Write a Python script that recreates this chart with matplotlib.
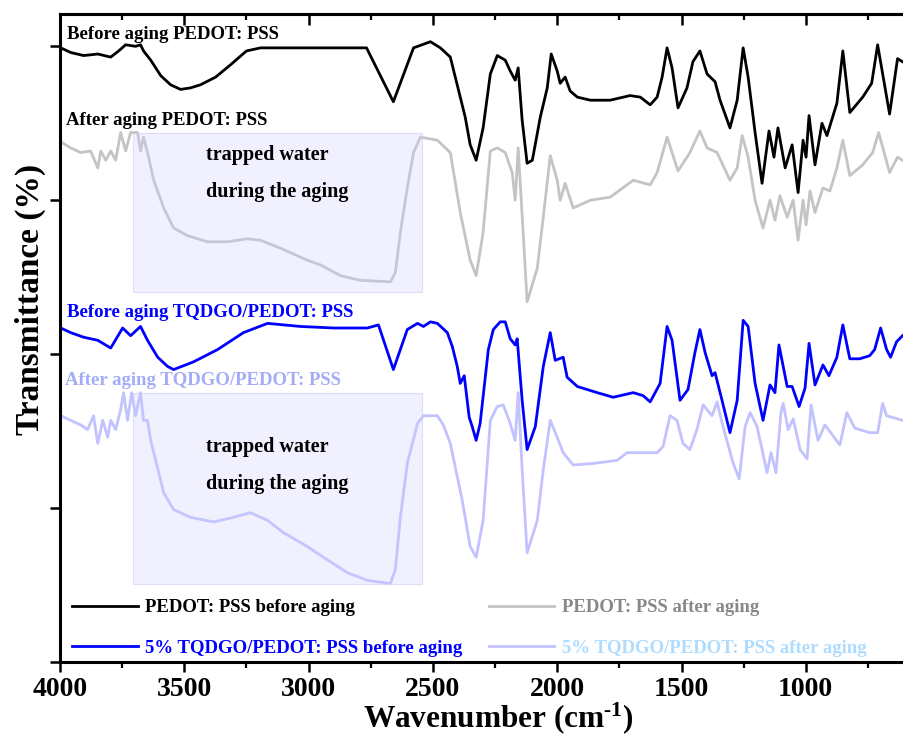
import matplotlib
matplotlib.use("Agg")
import matplotlib.pyplot as plt
from matplotlib.ticker import MultipleLocator, NullFormatter
from matplotlib.patches import Rectangle

plt.rcParams['font.family'] = ['Liberation Serif', 'DejaVu Serif']
plt.rcParams['font.weight'] = 'bold'
plt.rcParams['mathtext.fontset'] = 'custom'
plt.rcParams['mathtext.rm'] = 'Liberation Serif:bold'
plt.rcParams['mathtext.it'] = 'Liberation Serif:bold'
plt.rcParams['mathtext.bf'] = 'Liberation Serif:bold'

# ---------------- data (wavenumber cm-1, offset transmittance in a.u.) ----------------
wn_before = [3997, 3957, 3905, 3848, 3796, 3764, 3736, 3696, 3676, 3664, 3635, 3595, 3555,
             3515, 3475, 3435, 3374, 3314, 3250, 3193, 3113, 3033, 2952, 2872, 2767, 2659,
             2578, 2510, 2470, 2430, 2390, 2370, 2350, 2326, 2298, 2269, 2241, 2209, 2189,
             2169, 2157, 2141, 2121, 2100, 2068, 2040, 2024, 2000, 1988, 1968, 1948, 1919,
             1867, 1787, 1707, 1666, 1626, 1598, 1578, 1558, 1538, 1514, 1478, 1454, 1426,
             1397, 1365, 1345, 1305, 1276, 1252, 1232, 1204, 1176, 1148, 1128, 1112, 1083,
             1055, 1031, 1011, 999, 987, 963, 935, 915, 875, 851, 823, 771, 735, 711, 663,
             631, 611]
t_before = [3.99, 3.96, 3.94, 3.95, 3.93, 3.97, 4.01, 4.00, 4.01, 3.97, 3.91, 3.81, 3.75,
            3.72, 3.73, 3.75, 3.80, 3.88, 3.97, 3.99, 3.99, 3.99, 3.99, 3.99, 3.99, 3.64,
            3.99, 4.03, 3.99, 3.93, 3.67, 3.54, 3.36, 3.26, 3.47, 3.82, 3.94, 3.91, 3.84,
            3.78, 3.86, 3.52, 3.24, 3.26, 3.54, 3.73, 3.95, 3.84, 3.76, 3.80, 3.71, 3.67,
            3.65, 3.65, 3.68, 3.67, 3.62, 3.67, 3.80, 3.99, 3.86, 3.60, 3.73, 3.90, 3.97,
            3.82, 3.77, 3.65, 3.47, 3.65, 3.99, 3.80, 3.44, 3.11, 3.45, 3.28, 3.47, 3.21,
            3.36, 3.05, 3.39, 3.28, 3.55, 3.23, 3.50, 3.42, 3.63, 3.97, 3.57, 3.67, 3.76,
            4.01, 3.56, 3.92, 3.90]

wn_after = [3997, 3957, 3917, 3877, 3848, 3836, 3816, 3796, 3776, 3756, 3736, 3716, 3688,
            3676, 3664, 3648, 3623, 3583, 3543, 3487, 3406, 3326, 3246, 3193, 3101, 3005,
            2952, 2872, 2792, 2671, 2651, 2631, 2603, 2578, 2550, 2482, 2430, 2390, 2350,
            2326, 2298, 2269, 2241, 2209, 2181, 2169, 2157, 2137, 2121, 2080, 2056, 2028,
            2000, 1988, 1968, 1936, 1867, 1787, 1694, 1626, 1598, 1558, 1514, 1466, 1426,
            1397, 1357, 1305, 1276, 1256, 1232, 1204, 1172, 1144, 1124, 1104, 1075, 1051,
            1031, 1011, 999, 983, 963, 931, 903, 875, 851, 823, 771, 731, 707, 663, 631, 611]
t_after = [3.38, 3.34, 3.31, 3.32, 3.21, 3.32, 3.26, 3.32, 3.26, 3.44, 3.32, 3.44, 3.44,
           3.32, 3.41, 3.31, 3.13, 2.95, 2.82, 2.77, 2.73, 2.73, 2.75, 2.74, 2.68, 2.61,
           2.58, 2.51, 2.48, 2.47, 2.53, 2.79, 3.08, 3.31, 3.41, 3.39, 3.31, 2.92, 2.61,
           2.51, 2.79, 3.32, 3.34, 3.31, 3.18, 3.00, 3.34, 2.79, 2.34, 2.56, 2.89, 3.29,
           3.13, 3.00, 3.11, 2.95, 3.00, 3.02, 3.13, 3.10, 3.18, 3.41, 3.19, 3.31, 3.45,
           3.34, 3.31, 3.13, 3.21, 3.42, 3.28, 3.00, 2.82, 3.00, 2.87, 3.03, 2.89, 3.00,
           2.74, 3.00, 2.84, 3.06, 2.92, 3.08, 3.06, 3.21, 3.39, 3.16, 3.23, 3.31, 3.44,
           3.18, 3.28, 3.26]

wn_tq_before = [3997, 3957, 3905, 3848, 3796, 3748, 3716, 3676, 3648, 3607, 3567, 3543, 3463,
                3366, 3262, 3165, 3033, 2900, 2763, 2719, 2659, 2603, 2562, 2538, 2510, 2482,
                2442, 2422, 2402, 2390, 2374, 2354, 2342, 2326, 2310, 2277, 2257, 2229, 2209,
                2189, 2169, 2161, 2141, 2121, 2088, 2056, 2028, 2008, 1976, 1960, 1919, 1839,
                1775, 1694, 1654, 1626, 1586, 1558, 1538, 1506, 1474, 1446, 1426, 1405, 1377,
                1365, 1337, 1305, 1276, 1252, 1232, 1204, 1172, 1144, 1124, 1108, 1075, 1055,
                1027, 1003, 987, 963, 931, 907, 875, 851, 823, 783, 743, 723, 699, 675, 659,
                635, 611]
t_tq_before = [2.17, 2.14, 2.11, 2.09, 2.04, 2.17, 2.12, 2.18, 2.09, 1.98, 1.92, 1.90, 1.95,
               2.03, 2.14, 2.20, 2.18, 2.17, 2.17, 2.19, 1.90, 2.16, 2.20, 2.18, 2.21, 2.20,
               2.14, 2.05, 1.92, 1.81, 1.86, 1.59, 1.53, 1.44, 1.55, 2.03, 2.16, 2.21, 2.21,
               2.10, 2.06, 2.10, 1.70, 1.38, 1.53, 1.92, 2.14, 1.96, 1.98, 1.85, 1.79, 1.75,
               1.72, 1.75, 1.73, 1.69, 1.81, 2.18, 2.09, 1.70, 1.77, 2.01, 2.16, 2.01, 1.86,
               1.88, 1.70, 1.49, 1.70, 2.22, 2.18, 1.81, 1.57, 1.80, 1.75, 2.06, 1.79, 1.79,
               1.66, 1.78, 2.07, 1.80, 1.93, 1.86, 1.98, 2.19, 1.97, 1.97, 1.99, 2.03, 2.17,
               2.03, 1.98, 2.08, 2.12]

wn_tq_after = [3997, 3957, 3917, 3889, 3865, 3848, 3828, 3808, 3796, 3776, 3756, 3744, 3728,
               3712, 3696, 3676, 3664, 3648, 3635, 3623, 3583, 3543, 3475, 3382, 3302, 3234,
               3165, 3101, 3005, 2940, 2844, 2763, 2671, 2651, 2631, 2603, 2562, 2538, 2482,
               2458, 2430, 2382, 2350, 2326, 2298, 2269, 2241, 2217, 2189, 2169, 2157, 2141,
               2121, 2080, 2056, 2028, 2000, 1976, 1936, 1855, 1759, 1719, 1598, 1574, 1546,
               1518, 1494, 1466, 1438, 1413, 1377, 1357, 1333, 1292, 1268, 1244, 1224, 1196,
               1156, 1140, 1120, 1100, 1091, 1071, 1051, 1023, 995, 979, 951, 923, 863, 835,
               803, 743, 711, 691, 675, 611]
t_tq_after = [1.60, 1.57, 1.54, 1.51, 1.60, 1.42, 1.57, 1.46, 1.57, 1.51, 1.64, 1.75, 1.57,
              1.75, 1.60, 1.75, 1.57, 1.57, 1.44, 1.36, 1.10, 0.99, 0.94, 0.91, 0.94, 0.97,
              0.92, 0.84, 0.75, 0.68, 0.58, 0.53, 0.51, 0.60, 0.94, 1.29, 1.55, 1.60, 1.60,
              1.54, 1.42, 1.05, 0.75, 0.68, 0.92, 1.57, 1.66, 1.67, 1.55, 1.44, 1.75, 1.25,
              0.71, 0.92, 1.25, 1.57, 1.46, 1.36, 1.28, 1.29, 1.31, 1.36, 1.36, 1.40, 1.60,
              1.57, 1.42, 1.38, 1.51, 1.67, 1.60, 1.69, 1.53, 1.29, 1.19, 1.53, 1.62, 1.53,
              1.23, 1.36, 1.23, 1.62, 1.68, 1.51, 1.58, 1.38, 1.32, 1.67, 1.44, 1.54, 1.41,
              1.62, 1.52, 1.49, 1.49, 1.68, 1.60, 1.57]

legend_labels = ["PEDOT: PSS before aging", "PEDOT: PSS after aging",
                 "5% TQDGO/PEDOT: PSS before aging", "5% TQDGO/PEDOT: PSS after aging"]
curve_titles = ["Before aging PEDOT: PSS", "After aging PEDOT: PSS",
                "Before aging TQDGO/PEDOT: PSS", "After aging TQDGO/PEDOT: PSS"]
box_wn = (3707, 2542)
box1_t = (2.403, 3.435)
box2_t = (0.506, 1.747)

# ---------------- figure ----------------
W, H = 904, 736
fig = plt.figure(figsize=(W / 100, H / 100), dpi=100)
ax = fig.add_axes([60 / W, 74 / H, 844 / W, 648 / H])

c_black, c_gray, c_blue, c_lblue = '#000000', '#c4c4c4', '#0000ff', '#c2c2ff'
lw = 2.0
l1, = ax.plot(wn_before, t_before, color=c_black, lw=lw)
l2, = ax.plot(wn_after, t_after, color=c_gray, lw=lw)
l3, = ax.plot(wn_tq_before, t_tq_before, color=c_blue, lw=lw)
l4, = ax.plot(wn_tq_after, t_tq_after, color=c_lblue, lw=lw)

for (b0, b1) in (box1_t, box2_t):
    ax.add_patch(Rectangle((box_wn[0], b0), box_wn[1] - box_wn[0], b1 - b0,
                           facecolor=(0.80, 0.80, 1.0, 0.28),
                           edgecolor=(0.80, 0.80, 0.95, 0.6), lw=0.8, zorder=5))

ax.set_xlim(4000, 605)
ax.set_ylim(0, 4.21)

for s in ['left', 'bottom', 'top']:
    ax.spines[s].set_linewidth(2.2)
ax.spines['right'].set_visible(False)

ax.xaxis.set_major_locator(MultipleLocator(500))
ax.xaxis.set_minor_locator(MultipleLocator(250))
ax.yaxis.set_major_locator(MultipleLocator(1))
ax.yaxis.set_major_formatter(NullFormatter())
ax.tick_params(axis='x', which='major', direction='out', length=7, width=1.8,
               labelsize=20, pad=4)
ax.tick_params(axis='x', which='minor', direction='out', length=4, width=1.6)
ax.tick_params(axis='y', which='major', direction='out', length=7, width=1.8)
for lab in ax.get_xticklabels():
    lab.set_fontweight('bold')

top = ax.secondary_xaxis('top')
top.xaxis.set_major_locator(MultipleLocator(500))
top.xaxis.set_minor_locator(MultipleLocator(250))
top.xaxis.set_major_formatter(NullFormatter())
top.tick_params(axis='x', which='major', direction='in', length=8, width=1.8)
top.tick_params(axis='x', which='minor', direction='in', length=4.5, width=1.6)
top.spines['top'].set_linewidth(2.2)

fig.text(30 / W, 1 - 299 / H, 'Transmittance (%)', rotation=90, ha='center',
         va='center', fontsize=24, fontweight='bold')
fig.text(498 / W, 1 - 727 / H, 'Wavenumber (cm$^{\\text{-1}}$)', ha='center',
         va='baseline', fontsize=22.5, fontweight='bold')

fs = 13.5
fig.text(67 / W, 1 - 39 / H, curve_titles[0], color='black', fontsize=fs, va='baseline')
fig.text(66 / W, 1 - 125 / H, curve_titles[1], color='black', fontsize=fs, va='baseline')
fig.text(67 / W, 1 - 317 / H, curve_titles[2], color=c_blue, fontsize=fs, va='baseline')
fig.text(65 / W, 1 - 385 / H, curve_titles[3], color='#a4acf8', fontsize=fs, va='baseline')
for yb in (160, 452):
    fig.text(206 / W, 1 - yb / H, 'trapped water', color='black', fontsize=14.5,
             va='baseline')
    fig.text(206 / W, 1 - (yb + 37) / H, 'during the aging', color='black',
             fontsize=14.5, va='baseline')

leg = fig.legend([l1, l3, l2, l4], [legend_labels[0], legend_labels[2],
                                    legend_labels[1], legend_labels[3]],
                 ncol=2, frameon=False, loc='lower left',
                 bbox_to_anchor=(72 / W, 1 - 657 / H), borderpad=0, borderaxespad=0,
                 handlelength=3.5, handletextpad=0.4, columnspacing=1.4,
                 labelspacing=1.25, prop={'size': fs, 'weight': 'bold'})
for txt, col in zip(leg.get_texts(), ['black', c_blue, '#888888', '#aedcff']):
    txt.set_color(col)
for h in leg.legend_handles:
    h.set_linewidth(2.0)

fig.savefig('out.png', dpi=100)
